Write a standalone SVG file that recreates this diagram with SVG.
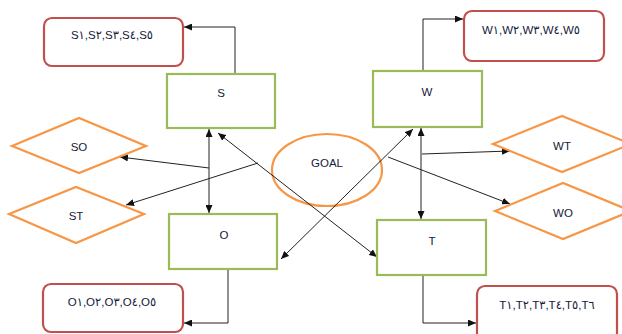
<svg xmlns="http://www.w3.org/2000/svg" width="622" height="334" viewBox="0 0 622 334">
<style>
.g{fill:#fff;stroke:#9BBB59;stroke-width:2.2}
.r{fill:#fff;stroke:#C0504D;stroke-width:2.2}
.o{fill:#fff;stroke:#F79646;stroke-width:2.2}
.e{fill:none;stroke:#F79646;stroke-width:2.2}
.t{font-family:"Liberation Sans","DejaVu Sans",sans-serif;font-size:11.5px;fill:#14203a;text-anchor:middle}
.c{fill:none;stroke:#222;stroke-width:1}
</style>
<defs>
<marker id="ah" viewBox="0 0 8 7" refX="8" refY="3.5" markerWidth="8" markerHeight="7" markerUnits="userSpaceOnUse" orient="auto-start-reverse">
<path d="M0,0 L8,3.5 L0,7 z" fill="#111"/>
</marker>
</defs>
<rect width="622" height="334" fill="#fff"/>
<g id="GOAL"><ellipse class="e" cx="327" cy="170" rx="55" ry="36"/><text class="t" x="327" y="167">GOAL</text></g>
<g id="connectors">
<path class="c" d="M235,74 V27 H184" marker-end="url(#ah)"/>
<path class="c" d="M423,71 V19 H463" marker-end="url(#ah)"/>
<path class="c" d="M228,269 V323 H184" marker-end="url(#ah)"/>
<path class="c" d="M423,275 V323 H476" marker-end="url(#ah)"/>
<path class="c" d="M209,129 V213" marker-start="url(#ah)" marker-end="url(#ah)"/>
<path class="c" d="M421,128 V219" marker-start="url(#ah)" marker-end="url(#ah)"/>
<path class="c" d="M218,133 L377,257" marker-start="url(#ah)" marker-end="url(#ah)"/>
<path class="c" d="M413,129 L281,259" marker-start="url(#ah)" marker-end="url(#ah)"/>
<path class="c" d="M209,168 L120,157" marker-end="url(#ah)"/>
<path class="c" d="M258,163 L126,205" marker-end="url(#ah)"/>
<path class="c" d="M422,154 L510,151" marker-end="url(#ah)"/>
<path class="c" d="M388,157 L510,204" marker-end="url(#ah)"/>
</g>
<g id="S-list"><rect class="r" x="44" y="18" width="139" height="48" rx="8"/><text class="t" x="112" y="39">S١,S٢,S٣,S٤,S٥</text></g>
<g id="W-list"><rect class="r" x="464" y="11" width="140" height="50" rx="8"/><text class="t" x="531" y="34">W١,W٢,W٣,W٤,W٥</text></g>
<g id="O-list"><rect class="r" x="43" y="284" width="140" height="48" rx="8"/><text class="t" x="112" y="306">O١,O٢,O٣,O٤,O٥</text></g>
<g id="T-list"><rect class="r" x="477" y="286" width="140" height="58" rx="8"/><text class="t" x="547" y="309">T١,T٢,T٣,T٤,T٥,T٦</text></g>
<g id="S"><rect class="g" x="167" y="74" width="108" height="54"/><text class="t" x="221" y="97">S</text></g>
<g id="W"><rect class="g" x="373" y="71" width="109" height="56"/><text class="t" x="427" y="96">W</text></g>
<g id="O"><rect class="g" x="169" y="214" width="108" height="55"/><text class="t" x="224" y="239">O</text></g>
<g id="T"><rect class="g" x="377" y="220" width="109" height="55"/><text class="t" x="432" y="245">T</text></g>
<g id="SO"><polygon class="o" points="12,146 79,118 146,146 79,173"/><text class="t" x="79" y="151">SO</text></g>
<g id="ST"><polygon class="o" points="9,214 76,187 144,214 76,243"/><text class="t" x="76" y="220">ST</text></g>
<g id="WT"><polygon class="o" points="493,144 562,116 631,144 562,172"/><text class="t" x="562" y="150">WT</text></g>
<g id="WO"><polygon class="o" points="495,211 563,183 631,211 563,239"/><text class="t" x="563" y="217">WO</text></g>
</svg>
